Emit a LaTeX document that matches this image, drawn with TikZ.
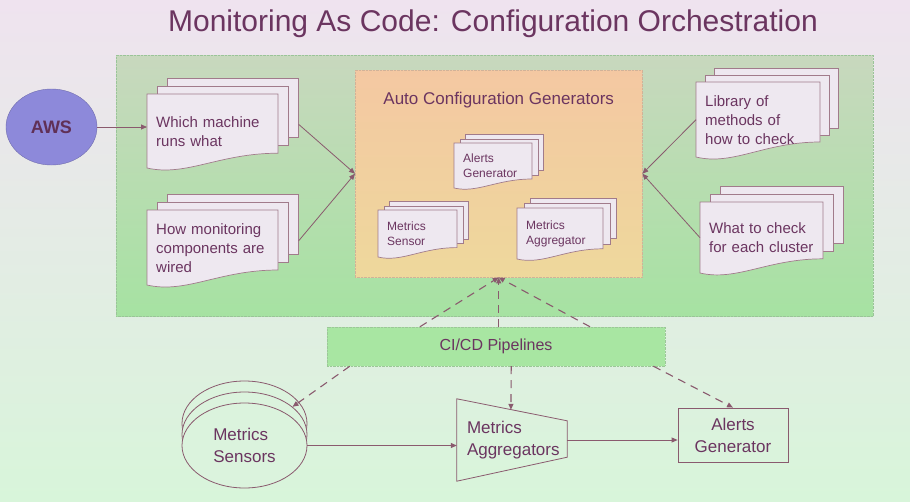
\documentclass[tikz,border=0pt]{standalone}
\usepackage{fontspec}
\setmainfont{Liberation Sans}
\usetikzlibrary{positioning,calc,arrows.meta,shapes.geometric}

\definecolor{ink}{HTML}{6B3560}
\definecolor{wire}{HTML}{8A5A6E}
\definecolor{bgtop}{HTML}{EFE3EF}
\definecolor{bgbot}{HTML}{D8F5DA}
\definecolor{greentop}{HTML}{C8D8BE}
\definecolor{greenbot}{HTML}{A6E2A2}
\definecolor{orangetop}{HTML}{F4C8A2}
\definecolor{orangebot}{HTML}{EED89C}
\definecolor{paper}{HTML}{EEE8F0}
\definecolor{awsfill}{HTML}{8D89DA}
\definecolor{pipefill}{HTML}{A8E6A2}

\tikzset{
  docpage/.style={draw=wire!80, fill=paper, line width=0.7pt},
  doctext/.style={inner sep=0pt, text=ink, align=left},
  flow/.style={->, line width=0.8pt, draw=wire},
  dashflow/.style={->, dash pattern=on 8pt off 6pt, line width=1.1pt, draw=wire},
  sensor/.style={ellipse, draw=wire, line width=0.8pt, fill=bgbot!88!bgtop,
    minimum width=125pt, minimum height=85pt},
}

% stacked document: [font] name, left, top, width, height, shift, text
\newcommand{\docstack}[8][\fontsize{15}{19}\selectfont]{%
  \foreach \k in {2,1}
    \node[docpage, minimum width=#5pt, minimum height=0.8*#6pt, anchor=north west]
      (#2-\k) at (#3+\k*#7, #4-0.8*\k*#7) {};
  \draw[docpage] (#3,#4) -- ++(#5,0) -- ++(0,0.8*#6)
    .. controls +(-0.45*#5,0) and +(0.3*#5,0.12*#6) .. (#3,#4+#6) -- cycle;
  \pgfmathsetmacro{\docwidth}{#5-18}
  \node[doctext, font=#1, minimum width=#5pt, minimum height=#6pt,
    text width=\docwidth pt, anchor=north west] (#2) at (#3,#4) {#8};
}

\begin{document}
\begin{tikzpicture}[x=1pt, y=-1pt, >={Triangle[length=6pt,width=5pt]}]
  \useasboundingbox (0,0) rectangle (910,501);
  \fill[top color=bgtop, bottom color=bgbot] (0,0) rectangle (910,501);

  \node[text=ink, font=\fontsize{30}{34}\selectfont, anchor=base] (title) at (493,31)
    {Monitoring As Code: Configuration Orchestration};

  % panels
  \node[draw=greenbot!70!gray, densely dotted, top color=greentop, bottom color=greenbot,
    minimum width=757pt, minimum height=261pt, anchor=north west] (conf) at (116,55) {};
  \node[draw=orangetop!70!gray, densely dotted, top color=orangetop, bottom color=orangebot,
    minimum width=287pt, minimum height=207pt, anchor=north west] (gen) at (355,70) {};
  \node[text=ink, font=\fontsize{17}{20}\selectfont, below=19pt of gen.north] (gentitle)
    {Auto Configuration Generators};

  \node[ellipse, draw=awsfill!80!black, fill=awsfill, minimum width=91pt, minimum height=76pt,
    text=ink!90!black, font=\bfseries\fontsize{18}{20}\selectfont] (aws) at (51.5,127) {AWS};

  \docstack{which}{147}{94}{131}{74}{10}{Which machine\\runs what}
  \docstack{wired}{147}{210}{131}{75}{10}{How monitoring\\components are\\wired}
  \docstack[\fontsize{12}{15}\selectfont]{alertscfg}{454}{143}{78}{45}{5.5}{Alerts\\Generator}
  \docstack[\fontsize{12}{15}\selectfont]{sensorcfg}{378}{210}{79}{47}{5.5}{Metrics\\Sensor}
  \docstack[\fontsize{12}{15}\selectfont]{aggcfg}{517}{208}{86}{51}{6.5}{Metrics\\Aggregator}
  \docstack{library}{696}{82}{124}{75}{9}{Library of\\methods of\\how to check}
  \docstack{checks}{700}{202}{123}{71}{10}{What to check\\for each cluster}

  \draw[flow] (aws) -- (aws -| which.west);
  \draw[flow] (which-2.-14) -- (gen.west);
  \draw[flow] (wired-2.-14) -- (gen.west);
  \draw[flow] (library.west) -- (gen.east);
  \draw[flow] (checks.west) -- (gen.east);

  % pipelines
  \node[fill=pipefill, draw=pipefill!70!gray, densely dotted, minimum width=338pt,
    minimum height=39pt, text=ink, font=\fontsize{16}{19}\selectfont] (cicd) at (496,346.5)
    {CI/CD Pipelines};
  \draw[dashflow] ($(cicd.north west)!0.275!(cicd.north east)$) -- (gen.south);
  \draw[dashflow] (cicd.north -| gen.south) -- (gen.south);
  \draw[dashflow] ($(cicd.north west)!0.778!(cicd.north east)$) -- (gen.south);

  % deployed components
  \foreach \k in {2,1}
    \node[sensor] (sens-\k) at (244.5,445.5-11*\k) {};
  \node[sensor, align=left, text=ink, font=\fontsize{17}{22}\selectfont] (sens) at (244.5,445.5)
    {Metrics\\Sensors};

  \node[minimum width=110pt, minimum height=82pt, text width=90pt, align=left, inner sep=0pt,
    text=ink, font=\fontsize{17}{22}\selectfont] (agg) at (512,440) {Metrics\\Aggregators};
  \draw[draw=wire, line width=0.8pt] (agg.north west) -- ($(agg.north east)+(0,22)$)
    -- ($(agg.south east)+(0,-24)$) -- (agg.south west) -- cycle;
  \coordinate (aggtop) at ($(agg.north west)!0.49!(agg.north east)+(0,11)$);

  \node[draw=wire, line width=0.8pt, minimum width=110pt, minimum height=54pt, align=center,
    text=ink, font=\fontsize{17}{22}\selectfont] (alerts) at (733,435) {Alerts\\Generator};

  \draw[flow] (sens.east) -- (sens.east -| agg.west);
  \draw[flow] (agg.east) -- (agg.east -| alerts.west);

  \draw[dashflow] ($(cicd.south west)!0.068!(cicd.south east)$) -- (sens-1.30);
  \draw[dashflow] ($(cicd.south west)!0.545!(cicd.south east)$) -- (aggtop);
  \draw[dashflow] ($(cicd.south west)!0.965!(cicd.south east)$) -- (alerts.north);
\end{tikzpicture}
\end{document}
